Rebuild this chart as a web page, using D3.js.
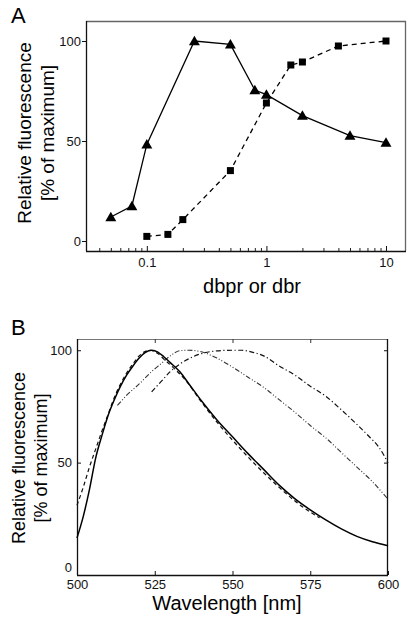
<!DOCTYPE html>
<html><head><meta charset="utf-8">
<script src="https://cdn.jsdelivr.net/npm/d3@7/dist/d3.min.js"></script>
<style>body{margin:0;background:#fff}svg{display:block;font-family:"Liberation Sans",Arial,sans-serif}</style>
</head><body>
<script>
// Panel A data
const triX = [0.05, 0.075, 0.1, 0.25, 0.5, 0.8, 1, 2, 5, 10];
const triY = [12, 17.5, 48.3, 100, 98.3, 75.5, 73.2, 62.7, 52.7, 49.2];
const sqX = [0.1, 0.15, 0.2, 0.5, 1, 1.6, 2, 4, 10];
const sqY = [2.3, 3.3, 10.7, 35.2, 69, 88, 89.5, 97.5, 100];
const aYTicks = [0, 50, 100];
const aXTicks = [0.1, 1, 10];
const aXTickLabels = ["0.1", "1", "10"];

// Panel B data (wavelength nm, relative fluorescence %)
const solidX = [500,502,504,506,508,510,512,514,516,518,520,522,524,526,528,530,533,536,540,545,550,555,560,565,570,575,580,585,590,595,600];
const solidY = [16.5,26,38,52,62,71,78,84,89,93,96.5,99,100,99.2,97,94.5,90.5,85,77.5,69,61.5,54,47,40,34,29,24.5,20.5,17.2,14.8,13];
const dashX = [500,502,504,506,508,510,512,514,516,518,520,522,523.5,526,528,530,535,540,545,550,555,560,565,570,575,578];
const dashY = [31,39,48,56,64,71.5,79,85,90,94,97.5,99.5,100,98.5,96,93.5,86.5,77,68,60,52.5,45.5,39,33,28,25.5];
const ddotX = [513,516,520,524,527,530,533,536,540,545,550,555,560,565,570,575,580,585,590,595,600];
const ddotY = [75.5,80,85,90.5,94,97.5,99.8,100,99.3,96.5,92.5,88,83.5,78,72.5,66.5,61,54.5,48,41.5,33.7];
const dotX = [524,527,530,535,540,545,550,553,556,560,565,570,575,580,585,590,594,597,599,600];
const dotY = [81.5,86,90.5,95.5,98.5,99.7,100,100,99.3,97.5,93,89,84,79.5,73.5,67,61.5,57,52.5,49.8];
const bXTicks = [500, 525, 550, 575, 600];
const bYTicks = [0, 50, 100];

const W = 407, H = 624;
const FONT = "Liberation Sans, Arial, sans-serif";
const svg = d3.select("body").append("svg").attr("width", W).attr("height", H);
svg.append("rect").attr("width", W).attr("height", H).attr("fill", "#fff");

// ---------- Panel A ----------
const aL = 86, aR = 406, aT = 21, aB = 251;
const ax = d3.scaleLog().domain([0.031, 14.7]).range([aL, aR]);
const ay = d3.scaleLinear().domain([-5, 110]).range([aB, aT]);
const gA = svg.append("g");

gA.append("line").attr("x1", aL).attr("x2", aR).attr("y1", aT + 0.5).attr("y2", aT + 0.5).attr("stroke", "#666").attr("stroke-width", 1.3);
gA.append("line").attr("x1", aR - 0.5).attr("x2", aR - 0.5).attr("y1", aT).attr("y2", aB).attr("stroke", "#666").attr("stroke-width", 1.3);

const minorA = [];
[0.01, 0.1, 1].forEach(d => { for (let k = 2; k <= 9; k++) minorA.push(d * k); });
const minorIn = minorA.filter(v => v > 0.031 && v < 14.7);
gA.append("g").attr("transform", `translate(0,${aB})`)
  .call(d3.axisBottom(ax).tickValues(minorIn).tickSize(-3).tickFormat(""))
  .call(g => g.select(".domain").remove())
  .call(g => g.selectAll("line").attr("stroke", "#222"));
const axisAX = gA.append("g").attr("transform", `translate(0,${aB})`)
  .call(d3.axisBottom(ax).tickValues(aXTicks).tickSize(-5).tickPadding(0).tickFormat((d, i) => aXTickLabels[i]));
axisAX.select(".domain").attr("d", `M${aL},0.5H${aR}`).attr("stroke", "#111").attr("stroke-width", 1.3);
axisAX.selectAll("line").attr("stroke", "#111");
axisAX.selectAll("text").attr("y", 16).attr("dy", 0).attr("font-size", 13).attr("fill", "#111").attr("font-family", FONT);

const axisAY = gA.append("g").attr("transform", `translate(${aL},0)`)
  .call(d3.axisLeft(ay).tickValues(aYTicks).tickSize(4).tickPadding(1));
axisAY.select(".domain").attr("d", `M0.5,${aT}V${aB}`).attr("stroke", "#111").attr("stroke-width", 1.3);
axisAY.selectAll("line").attr("stroke", "#111");
axisAY.selectAll("text").attr("font-size", 13).attr("fill", "#111").attr("font-family", FONT);

const lineA = d3.line().x(d => ax(d[0])).y(d => ay(d[1]));
const triData = triX.map((x, i) => [x, triY[i]]);
const sqData = sqX.map((x, i) => [x, sqY[i]]);
gA.append("path").attr("d", lineA(triData)).attr("fill", "none").attr("stroke", "#000").attr("stroke-width", 1.3);
gA.append("path").attr("d", lineA(sqData)).attr("fill", "none").attr("stroke", "#000").attr("stroke-width", 1.3).attr("stroke-dasharray", "5,4");
const triSym = d3.symbol().type(d3.symbolTriangle).size(52);
gA.selectAll(".tri").data(triData).join("path")
  .attr("transform", d => `translate(${ax(d[0])},${ay(d[1]) + 1})`)
  .attr("d", triSym()).attr("fill", "#000");
gA.selectAll(".sq").data(sqData).join("rect")
  .attr("x", d => ax(d[0]) - 3.5).attr("y", d => ay(d[1]) - 3.5)
  .attr("width", 7).attr("height", 7).attr("fill", "#000");

svg.append("text").attr("x", 11).attr("y", 23).attr("font-size", 22).text("A");
svg.append("text").attr("transform", "translate(30.5,133) rotate(-90)").attr("text-anchor", "middle").attr("font-size", 19).text("Relative fluorescence");
svg.append("text").attr("transform", "translate(54,133) rotate(-90)").attr("text-anchor", "middle").attr("font-size", 19).text("[% of maximum]");
svg.append("text").attr("x", 252).attr("y", 293).attr("text-anchor", "middle").attr("font-size", 20).text("dbpr or dbr");

// ---------- Panel B ----------
const bL = 77, bR = 388, bT = 339, bB = 575;
const bx = d3.scaleLinear().domain([500, 600]).range([bL, bR]);
const by = d3.scaleLinear().domain([0, 105]).range([bB, bT]);
const gB = svg.append("g");

gB.append("line").attr("x1", bL).attr("x2", bR).attr("y1", bT + 0.5).attr("y2", bT + 0.5).attr("stroke", "#777").attr("stroke-width", 1.2);
gB.append("line").attr("x1", bR - 0.5).attr("x2", bR - 0.5).attr("y1", bT).attr("y2", bB).attr("stroke", "#111").attr("stroke-width", 1.3);

const axisBX = gB.append("g").attr("transform", `translate(0,${bB})`)
  .call(d3.axisBottom(bx).tickValues(bXTicks).tickSize(-4).tickPadding(0));
axisBX.select(".domain").attr("d", `M${bL},0.5H${bR}`).attr("stroke", "#111").attr("stroke-width", 1.3);
axisBX.selectAll("line").attr("stroke", "#111");
axisBX.selectAll("text").attr("y", 13.5).attr("dy", 0).attr("font-size", 13).attr("fill", "#111").attr("font-family", FONT);
gB.append("g").attr("transform", `translate(0,${bT})`)
  .call(d3.axisTop(bx).tickValues(bXTicks.slice(1, -1)).tickSize(-4).tickFormat(""))
  .call(g => g.select(".domain").remove())
  .call(g => g.selectAll("line").attr("stroke", "#333"));

const axisBY = gB.append("g").attr("transform", `translate(${bL},0)`)
  .call(d3.axisLeft(by).tickValues(bYTicks).tickSize(-4).tickPadding(5));
axisBY.select(".domain").attr("d", `M0.5,${bT}V${bB}`).attr("stroke", "#111").attr("stroke-width", 1.3);
axisBY.selectAll("line").attr("stroke", "#111");
axisBY.selectAll("text").attr("font-size", 13).attr("fill", "#111").attr("font-family", FONT)
  .attr("dy", d => d === 0 ? "-0.25em" : "0.32em");
gB.append("g").attr("transform", `translate(${bR},0)`)
  .call(d3.axisRight(by).tickValues(bYTicks.slice(1)).tickSize(-4).tickFormat(""))
  .call(g => g.select(".domain").remove())
  .call(g => g.selectAll("line").attr("stroke", "#111"));

const lineB = d3.line().x(d => bx(d[0])).y(d => by(d[1])).curve(d3.curveMonotoneX);
const pair = (xs, ys) => xs.map((x, i) => [x, ys[i]]);
gB.append("path").attr("d", lineB(pair(dotX, dotY))).attr("fill", "none").attr("stroke", "#111").attr("stroke-width", 1.2).attr("stroke-dasharray", "5,2.5,1.2,2.5");
gB.append("path").attr("d", lineB(pair(ddotX, ddotY))).attr("fill", "none").attr("stroke", "#333").attr("stroke-width", 1.1).attr("stroke-dasharray", "5,2,1,2,1,2");
gB.append("path").attr("d", lineB(pair(dashX, dashY))).attr("fill", "none").attr("stroke", "#111").attr("stroke-width", 1.2).attr("stroke-dasharray", "4,3");
gB.append("path").attr("d", lineB(pair(solidX, solidY))).attr("fill", "none").attr("stroke", "#000").attr("stroke-width", 1.5);

svg.append("text").attr("x", 11).attr("y", 335).attr("font-size", 22).text("B");
svg.append("text").attr("transform", "translate(25,458) rotate(-90)").attr("text-anchor", "middle").attr("font-size", 18).text("Relative fluorescence");
svg.append("text").attr("transform", "translate(47,458) rotate(-90)").attr("text-anchor", "middle").attr("font-size", 18).text("[% of maximum]");
svg.append("text").attr("x", 227).attr("y", 609.5).attr("text-anchor", "middle").attr("font-size", 20).text("Wavelength [nm]");
</script>
</body></html>
